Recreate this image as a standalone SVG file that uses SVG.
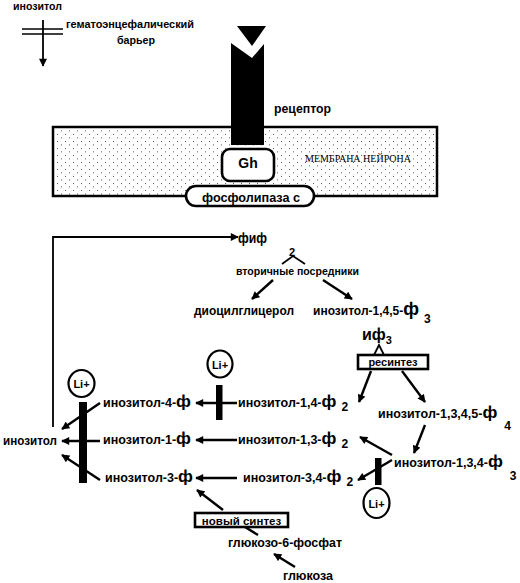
<svg xmlns="http://www.w3.org/2000/svg" width="520" height="583" viewBox="0 0 520 583">
<style>
.t{font-family:"Liberation Sans",Arial,sans-serif;font-weight:bold;fill:#000}
.s{font-family:"Liberation Serif","Times New Roman",serif;fill:#000}
.ln{stroke:#000;fill:none;stroke-width:2.4}
.thin{stroke:#000;fill:none;stroke-width:1.8}
.box{fill:#fff;stroke:#000;stroke-width:2.6}
</style>
<defs>
<marker id="ah" viewBox="0 0 10 10" refX="9" refY="5" markerWidth="9" markerHeight="8" markerUnits="userSpaceOnUse" orient="auto"><path d="M0,0 L10,5 L0,10 z" fill="#000"/></marker>
<pattern id="dots" width="8" height="7" patternUnits="userSpaceOnUse"><rect x="1" y="1" width="0.8" height="0.8" fill="#000"/><rect x="5" y="4.5" width="0.8" height="0.8" fill="#000"/></pattern>
</defs>
<rect width="520" height="583" fill="#fff"/>

<g id="barrier">
<text class="t" x="13" y="9.5" font-size="10.5" textLength="49" lengthAdjust="spacingAndGlyphs">инозитол</text>
<line x1="22" y1="29" x2="63" y2="29" stroke="#000" stroke-width="1.6"/>
<line x1="22" y1="34" x2="63" y2="34" stroke="#000" stroke-width="1.6"/>
<line x1="43" y1="20" x2="43" y2="66" stroke="#000" stroke-width="1.8" marker-end="url(#ah)"/>
<text class="t" x="66" y="28" font-size="11" textLength="128" lengthAdjust="spacingAndGlyphs">гематоэнцефалический</text>
<text class="t" x="117" y="44" font-size="11" textLength="38" lengthAdjust="spacingAndGlyphs">барьер</text>
</g>

<g id="membrane">
<rect x="53" y="127" width="384" height="69" fill="url(#dots)" stroke="#000" stroke-width="2.5"/>
<text class="s" x="305" y="162" font-size="10" textLength="106" lengthAdjust="spacingAndGlyphs">МЕМБРАНА НЕЙРОНА</text>
</g>

<g id="receptor">
<path d="M237,26 L266,26 L252,46 Z" fill="#000"/>
<path d="M231,43 L252,58 L264,44 L264,145 L231,145 Z" fill="#000"/>
<text class="t" x="274" y="113" font-size="12" textLength="57" lengthAdjust="spacingAndGlyphs">рецептор</text>
</g>

<g id="gh">
<rect class="box" x="222" y="149" width="52" height="32" rx="8"/>
<text class="t" x="248" y="168" font-size="14" text-anchor="middle">Gh</text>
</g>

<g id="plc">
<rect class="box" x="186" y="186" width="128" height="20" rx="10" stroke-width="2.2"/>
<text class="t" x="202" y="201.5" font-size="12" textLength="98" lengthAdjust="spacingAndGlyphs">фосфолипаза с</text>
</g>

<g id="pip2">
<text class="t" x="238" y="243" font-size="14" textLength="29" lengthAdjust="spacingAndGlyphs">фиф</text>
<text class="t" x="289" y="256" font-size="11">2</text>
</g>

<g id="messengers">
<text class="t" x="236" y="275" font-size="10.5" textLength="123" lengthAdjust="spacingAndGlyphs">вторичные посредники</text>
</g>

<g id="dag">
<text class="t" x="194" y="315" font-size="12" textLength="100" lengthAdjust="spacingAndGlyphs">диоцилглицерол</text>
</g>

<g id="ip3">
<text class="t" x="313" y="315" font-size="12">инозитол-1,4,5-<tspan font-size="18">ф</tspan><tspan font-size="12" dx="5" dy="8">3</tspan></text>
</g>

<g id="ip3short">
<text class="t" x="362" y="340" font-size="16">иф<tspan font-size="11" dy="4">3</tspan></text>
</g>

<g id="resynth">
<rect class="box" x="358" y="355" width="70" height="14" stroke-width="2.6"/>
<text class="t" x="393" y="366" font-size="11" text-anchor="middle">ресинтез</text>
</g>

<g id="ip2_14">
<text class="t" x="238" y="407" font-size="12.5">инозитол-1,4-<tspan font-size="17">ф</tspan><tspan font-size="12" dx="5" dy="4">2</tspan></text>
</g>
<g id="ip2_13">
<text class="t" x="238" y="444" font-size="12.5">инозитол-1,3-<tspan font-size="17">ф</tspan><tspan font-size="12" dx="5" dy="4">2</tspan></text>
</g>
<g id="ip2_34">
<text class="t" x="243" y="482" font-size="12.5">инозитол-3,4-<tspan font-size="17">ф</tspan><tspan font-size="12" dx="5" dy="4">2</tspan></text>
</g>

<g id="ip1_4">
<text class="t" x="103" y="407" font-size="12.5">инозитол-4-<tspan font-size="17">ф</tspan></text>
</g>
<g id="ip1_1">
<text class="t" x="103" y="444" font-size="12.5">инозитол-1-<tspan font-size="17">ф</tspan></text>
</g>
<g id="ip1_3">
<text class="t" x="105" y="482" font-size="12.5">инозитол-3-<tspan font-size="17">ф</tspan></text>
</g>

<g id="inositol">
<text class="t" x="3" y="445" font-size="12" textLength="54" lengthAdjust="spacingAndGlyphs">инозитол</text>
</g>

<g id="ip4">
<text class="t" x="378" y="418" font-size="12.5">инозитол-1,3,4,5-<tspan font-size="17">ф</tspan><tspan font-size="12" dx="7" dy="12">4</tspan></text>
</g>
<g id="ip3_134">
<text class="t" x="394" y="467" font-size="12.5">инозитол-1,3,4-<tspan font-size="17">ф</tspan><tspan font-size="12" dx="7" dy="13">3</tspan></text>
</g>

<g id="newsynth">
<rect class="box" x="195" y="513" width="93" height="14" stroke-width="2.6"/>
<text class="t" x="241.5" y="524.5" font-size="11.5" text-anchor="middle">новый синтез</text>
</g>
<g id="g6p">
<text class="t" x="228" y="547" font-size="12" textLength="114" lengthAdjust="spacingAndGlyphs">глюкозо-6-фосфат</text>
</g>
<g id="glucose">
<text class="t" x="283" y="580" font-size="12" textLength="50" lengthAdjust="spacingAndGlyphs">глюкоза</text>
</g>

<g id="li1">
<ellipse cx="81.5" cy="383.5" rx="13" ry="13.5" fill="#fff" stroke="#000" stroke-width="2.2"/>
<text class="t" x="81.5" y="388" font-size="11" text-anchor="middle">Li+</text>
<rect x="79" y="402" width="8" height="81" fill="#000"/>
</g>
<g id="li2">
<ellipse cx="220" cy="364" rx="12.5" ry="13.5" fill="#fff" stroke="#000" stroke-width="2.2"/>
<text class="t" x="220" y="368.5" font-size="11" text-anchor="middle">Li+</text>
<rect x="216" y="385" width="6.5" height="35" fill="#000"/>
</g>
<g id="li3">
<ellipse cx="376.5" cy="503" rx="13" ry="15" fill="#fff" stroke="#000" stroke-width="2.2"/>
<text class="t" x="376.5" y="507.5" font-size="11" text-anchor="middle">Li+</text>
<rect x="375" y="458" width="6.5" height="27" fill="#000"/>
</g>

<g id="connectors">
<path class="thin" d="M53,427 V237 H238" marker-end="url(#ah)"/>
<polyline class="thin" points="282,264 293,256 305,264"/>
<line class="ln" x1="273" y1="280" x2="252" y2="299" marker-end="url(#ah)"/>
<line class="ln" x1="323" y1="280" x2="352" y2="299" marker-end="url(#ah)"/>
<polyline class="thin" points="374,355 379,345 384,355"/>
<line class="ln" x1="371" y1="371" x2="359" y2="402" marker-end="url(#ah)"/>
<line class="ln" x1="402" y1="371" x2="425" y2="402" marker-end="url(#ah)"/>
<line class="ln" x1="425" y1="425" x2="414" y2="453" marker-end="url(#ah)"/>
<line class="ln" x1="392" y1="455" x2="360" y2="437" marker-end="url(#ah)"/>
<line class="ln" x1="392" y1="460" x2="358" y2="480" marker-end="url(#ah)"/>
<line class="ln" x1="237" y1="403" x2="196" y2="403" marker-end="url(#ah)"/>
<line class="ln" x1="237" y1="440" x2="196" y2="440" marker-end="url(#ah)"/>
<line class="ln" x1="237" y1="478" x2="196" y2="478" marker-end="url(#ah)"/>
<line class="ln" x1="100" y1="403" x2="62" y2="429" marker-end="url(#ah)"/>
<line class="ln" x1="100" y1="441" x2="62" y2="441" marker-end="url(#ah)"/>
<line class="ln" x1="100" y1="480" x2="62" y2="455" marker-end="url(#ah)"/>
<line class="ln" x1="223" y1="510" x2="197" y2="490" marker-end="url(#ah)"/>
<line class="ln" x1="258" y1="535" x2="245" y2="527"/>
<line class="ln" x1="295" y1="567" x2="274" y2="554" marker-end="url(#ah)"/>
</g>
</svg>
